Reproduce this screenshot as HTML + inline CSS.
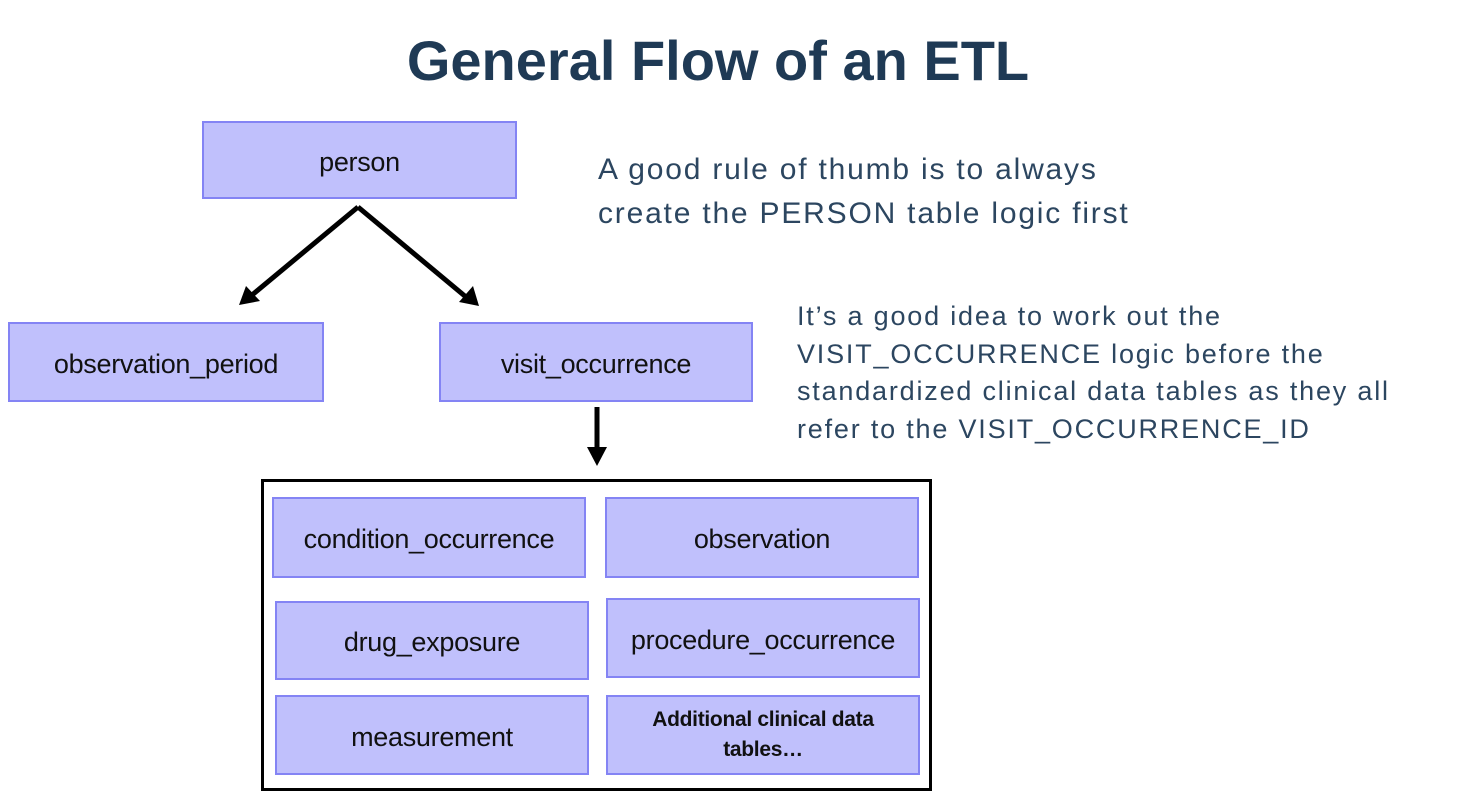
<!DOCTYPE html>
<html><head><style>
body{margin:0;width:1462px;height:792px;background:#fff;position:relative;overflow:hidden;font-family:"Liberation Sans",Arial,sans-serif}
.b{position:absolute;background:#c0c0fc;border:2px solid #8484f4;box-sizing:border-box;display:flex;align-items:center;justify-content:center;font-size:27px;color:#111;text-align:center;padding-top:4px;letter-spacing:-0.3px}
.t{position:absolute;color:#2c4660;white-space:nowrap}
</style></head><body>
<div class="t" style="left:0;width:1436px;top:28px;text-align:center;font-size:56px;font-weight:bold;color:#1f3a55">General Flow of an ETL</div>
<div class="t" style="left:598px;top:148px;font-size:30px;line-height:44px;letter-spacing:1.8px">A good rule of thumb is to always<br>create the PERSON table logic first</div>
<div class="t" style="left:797px;top:298px;font-size:27px;line-height:37.7px;letter-spacing:1.8px">It’s a good idea to work out the<br>VISIT_OCCURRENCE logic before the<br>standardized clinical data tables as they all<br>refer to the VISIT_OCCURRENCE_ID</div>
<div class="b" style="left:202px;top:121px;width:315px;height:78px">person</div>
<div class="b" style="left:8px;top:322px;width:316px;height:80px">observation_period</div>
<div class="b" style="left:439px;top:322px;width:314px;height:80px">visit_occurrence</div>
<svg style="position:absolute;left:0;top:0" width="1462" height="792">
<g stroke="#000" stroke-width="5" fill="none"><line x1="358" y1="207" x2="252" y2="295"/><line x1="358" y1="207" x2="466" y2="297"/><line x1="597" y1="407" x2="597" y2="450"/></g>
<polygon points="239,305 246,286 260,301" fill="#000"/>
<polygon points="479,306 459,302 473,286" fill="#000"/>
<polygon points="587,447 607,447 597,466" fill="#000"/>
<rect x="262.5" y="480.5" width="668" height="309" fill="none" stroke="#000" stroke-width="3"/>
</svg>
<div class="b" style="left:272px;top:497px;width:314px;height:81px">condition_occurrence</div>
<div class="b" style="left:605px;top:497px;width:314px;height:81px">observation</div>
<div class="b" style="left:275px;top:601px;width:314px;height:79px">drug_exposure</div>
<div class="b" style="left:606px;top:598px;width:314px;height:80px">procedure_occurrence</div>
<div class="b" style="left:275px;top:695px;width:314px;height:80px">measurement</div>
<div class="b" style="left:606px;top:695px;width:314px;height:80px;font-size:21px;font-weight:bold;line-height:30px;padding-top:0">Additional clinical data<br>tables…</div>
</body></html>
